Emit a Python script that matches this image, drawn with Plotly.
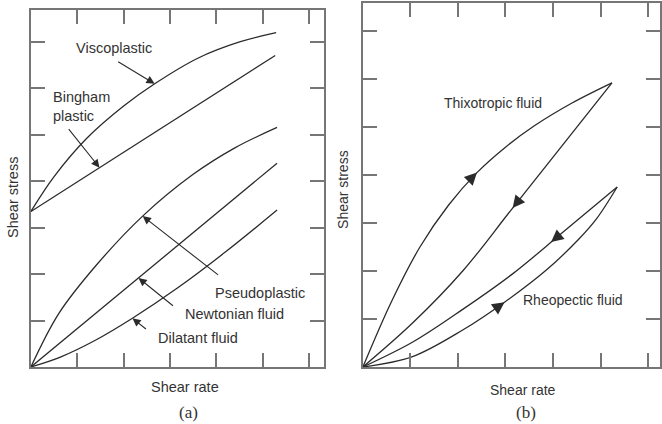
import numpy as np
import plotly.graph_objects as go

# ---------------- data ----------------
# Panel (a): flow curves, shear rate vs shear stress (arbitrary units, tick spacing = 1)
visco_x = [0, 0.5, 1.2, 2.0, 2.67, 3.6, 4.5, 5.29]
visco_y = [3.35, 4.10, 4.92, 5.62, 6.10, 6.65, 7.00, 7.20]

bingham_x = [0, 5.27]
bingham_y = [3.35, 6.71]

pseudo_x = [0, 0.6, 1.4, 2.41, 3.5, 4.4, 5.31]
pseudo_y = [0, 1.15, 2.18, 3.25, 4.15, 4.72, 5.16]

newton_x = [0, 5.31]
newton_y = [0, 4.39]

dilat_x = [0, 0.65, 1.38, 2.19, 3.16, 4.20, 5.31]
dilat_y = [0, 0.22, 0.57, 1.05, 1.70, 2.48, 3.38]

# Panel (b): hysteresis loops
thixo_up_x = [0, 0.6, 1.2, 1.8, 2.4, 3.0, 3.6, 4.4, 5.24]
thixo_up_y = [0, 1.36, 2.50, 3.37, 4.05, 4.58, 5.02, 5.50, 5.92]
thixo_down_x = [0, 1.05, 2.10, 3.15, 5.24]
thixo_down_y = [0, 0.92, 2.00, 3.31, 5.92]

rheo_up_x = [0, 1.03, 2.10, 2.98, 3.86, 4.53, 4.91, 5.35]
rheo_up_y = [0, 0.21, 0.77, 1.35, 2.02, 2.65, 3.08, 3.75]
rheo_down_x = [0, 1.05, 2.10, 3.15, 4.2, 5.35]
rheo_down_y = [0, 0.52, 1.20, 1.94, 2.80, 3.75]

# arrow tip positions (shear rate) on the curves
a_arrow_x = {"visco": 2.67, "bingham": 1.48, "pseudo": 2.41, "newton": 2.32, "dilat": 2.19}
b_arrow_x = {"thixo_up": 2.4, "thixo_down": 3.15, "rheo_up": 2.98, "rheo_down": 3.96}

labels_a = ["Viscoplastic", "Bingham<br>plastic", "Pseudoplastic", "Newtonian fluid", "Dilatant fluid"]
labels_b = ["Thixotropic fluid", "Rheopectic fluid"]

# ---------------- layout geometry ----------------
W, H = 662, 424
def PX(px):
    return px / W
def PY(py):
    return 1 - py / H

# panel a pixel box
a_l, a_r, a_t, a_b = 31, 325, 10, 367
a_sx, a_sy = 46.5, 46.43
# panel b pixel box
b_l, b_r, b_t, b_b = 364, 662, 3, 367
b_sx, b_sy = 47.67, 48.0

LINE = "#2b2b2b"
AX = "#767676"
TXT = "#333333"
FONT = "Liberation Sans, Arial, sans-serif"

fig = go.Figure()

def curve(x, y, xa, ya):
    fig.add_trace(go.Scatter(x=x, y=y, mode="lines", xaxis=xa, yaxis=ya,
                             line=dict(color=LINE, width=1.3, shape="spline", smoothing=1.0),
                             hoverinfo="skip", showlegend=False))

curve(visco_x, visco_y, "x", "y")
curve(bingham_x, bingham_y, "x", "y")
curve(pseudo_x, pseudo_y, "x", "y")
curve(newton_x, newton_y, "x", "y")
curve(dilat_x, dilat_y, "x", "y")

curve(thixo_up_x, thixo_up_y, "x2", "y2")
curve(thixo_down_x, thixo_down_y, "x2", "y2")
curve(rheo_up_x, rheo_up_y, "x2", "y2")
curve(rheo_down_x, rheo_down_y, "x2", "y2")

annotations = []

# labelled arrows in panel a: tip on curve, tail offset in pixels
def lab_arrow(xs, ys, x0, ax, ay):
    y0 = float(np.interp(x0, xs, ys))
    annotations.append(dict(x=x0, y=y0, xref="x", yref="y", text="", showarrow=True,
                            ax=ax, ay=ay, arrowhead=2, arrowsize=1.5, arrowwidth=1.1,
                            arrowcolor=LINE, standoff=0))

lab_arrow(visco_x, visco_y, a_arrow_x["visco"], -38, -23)
lab_arrow(bingham_x, bingham_y, a_arrow_x["bingham"], -32, -40)
lab_arrow(pseudo_x, pseudo_y, a_arrow_x["pseudo"], 77, 60)
lab_arrow(newton_x, newton_y, a_arrow_x["newton"], 36, 29)
lab_arrow(dilat_x, dilat_y, a_arrow_x["dilat"], 15, 12)

# direction arrows in panel b (heads only, shaft hidden along curve)
def dir_arrow(xs, ys, x0, sign, length=10):
    y0 = float(np.interp(x0, xs, ys))
    d = 0.08
    y1 = float(np.interp(x0 - d, xs, ys))
    y2 = float(np.interp(x0 + d, xs, ys))
    vx = 2 * d * b_sx
    vy = -(y2 - y1) * b_sy
    n = (vx ** 2 + vy ** 2) ** 0.5
    vx, vy = vx / n * sign, vy / n * sign
    annotations.append(dict(x=x0, y=y0, xref="x2", yref="y2", text="", showarrow=True,
                            ax=-vx * length, ay=-vy * length, arrowhead=2, arrowsize=1.9,
                            arrowwidth=1.3, arrowcolor=LINE, standoff=0))

dir_arrow(thixo_up_x, thixo_up_y, b_arrow_x["thixo_up"], +1)
dir_arrow(thixo_down_x, thixo_down_y, b_arrow_x["thixo_down"], -1)
dir_arrow(rheo_up_x, rheo_up_y, b_arrow_x["rheo_up"], +1)
dir_arrow(rheo_down_x, rheo_down_y, b_arrow_x["rheo_down"], -1)

def text(s, px, py, size=14.5, xanchor="center", angle=0, family=FONT, align="left"):
    annotations.append(dict(x=PX(px), y=PY(py), xref="paper", yref="paper", text=s,
                            showarrow=False, xanchor=xanchor, yanchor="middle",
                            textangle=angle, align=align,
                            font=dict(family=family, size=size, color=TXT)))

text(labels_a[0], 114, 48)
text(labels_a[1], 51, 106, xanchor="left")
text(labels_a[2], 214, 293, xanchor="left")
text(labels_a[3], 184, 314, xanchor="left")
text(labels_a[4], 156, 338, xanchor="left")
text("Shear rate", 186, 387)
text("Shear stress", 13, 197, angle=-90)
text("(a)", 189, 412, size=17, family="Liberation Serif, Times New Roman, serif")

text(labels_b[0], 494, 103, size=14)
text(labels_b[1], 575, 300, size=14)
text("Shear rate", 525, 390, size=14)
text("Shear stress", 344, 189, size=14, angle=-90)
text("(b)", 528, 412, size=17, family="Liberation Serif, Times New Roman, serif")

def axis(domain, rng, tickvals):
    return dict(domain=domain, range=rng, showgrid=False, zeroline=False,
                showline=True, linecolor=AX, linewidth=2, mirror="ticks",
                ticks="inside", ticklen=14, tickwidth=1.5, tickcolor=AX,
                tickvals=tickvals, showticklabels=False, fixedrange=True)

fig.update_layout(
    width=W, height=H, autosize=False,
    margin=dict(l=0, r=0, t=0, b=0),
    paper_bgcolor="white", plot_bgcolor="white",
    xaxis=axis([PX(a_l), PX(a_r)], [0, (a_r - a_l) / a_sx], list(range(1, 7))),
    yaxis=axis([PY(a_b), PY(a_t)], [0, (a_b - a_t) / a_sy], list(range(1, 8))),
    xaxis2=dict(axis([PX(b_l), 1.0], [0, (b_r - b_l) / b_sx], list(range(1, 7))), anchor="y2"),
    yaxis2=dict(axis([PY(b_b), PY(b_t)], [0, (b_b - b_t) / b_sy], list(range(1, 8))), anchor="x2"),
    annotations=annotations,
    showlegend=False,
)

fig.write_html("out.html", config={"displayModeBar": False},
               post_script="document.body.style.margin='0';document.body.style.overflow='hidden';")
